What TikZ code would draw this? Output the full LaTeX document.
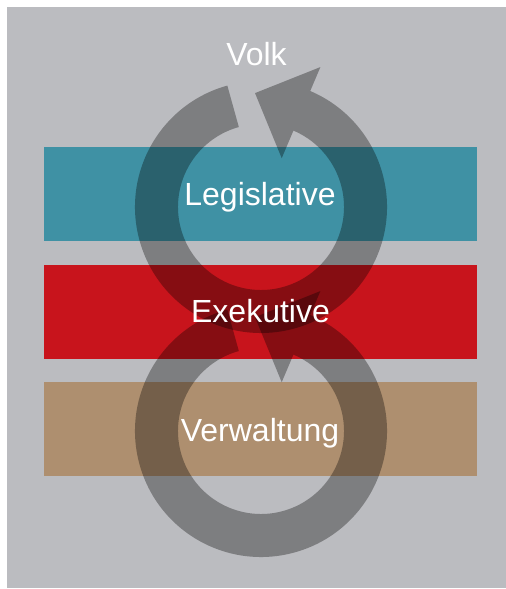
\documentclass[tikz,border=0pt]{standalone}
\usepackage{fontspec}
\setmainfont{Liberation Sans}
\usetikzlibrary{calc}
\definecolor{bggray}{RGB}{187,188,192}
\definecolor{legteal}{RGB}{63,145,164}
\definecolor{exred}{RGB}{200,20,28}
\definecolor{vertan}{RGB}{174,143,111}
\begin{document}
\begin{tikzpicture}[x=1pt,y=1pt,
  band/.style={rectangle, draw=none, minimum width=433pt, minimum height=94pt, inner sep=0pt, outer sep=0pt},
  lbl/.style={text=white, font=\fontsize{32}{38}\selectfont, anchor=base, inner sep=0pt},
  ring/.style={fill=black, fill opacity=0.33, draw=none}]
\useasboundingbox (0,0) rectangle (506,589);
\fill[bggray] (7,1) rectangle (506,582);
\node[band, fill=legteal] (legband) at (260.5,395) {};
\node[band, fill=exred] (exband) at (260.5,277) {};
\node[band, fill=vertan] (verband) at (260.5,160) {};
\coordinate (c1) at (261,382);
\coordinate (c2) at (261,158);
\foreach \c in {c1,c2}{
\fill[ring] ($(\c)+(105.5:126pt)$) arc[start angle=105.5, end angle=427, radius=126pt]
  -- ($(\c)+(67:152pt)$) -- ($(\c)+(67:102.5pt)+(157:50pt)$) -- ($(\c)+(67:53pt)$)
  -- ($(\c)+(67:83pt)$) arc[start angle=427, end angle=105.5, radius=83pt] -- cycle;
}
\node[lbl] (volk) at (256.5,523) {Volk};
\node[lbl] (leg) at (260,383) {Legislative};
\node[lbl] (exe) at (260.5,266) {Exekutive};
\node[lbl] (ver) at (260,147) {Verwaltung};
\end{tikzpicture}
\end{document}
